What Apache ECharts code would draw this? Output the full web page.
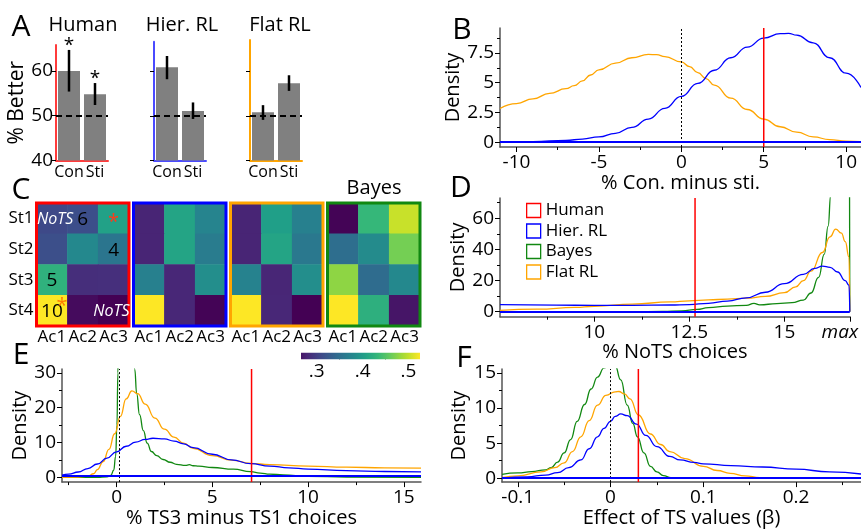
<!DOCTYPE html>
<html>
<head>
<meta charset="utf-8">
<title>Task-set model comparison</title>
<script src="https://cdn.jsdelivr.net/npm/echarts@6/dist/echarts.min.js"></script>
<style>body{margin:0;background:#fff}</style>
</head>
<body>
<div id="main" style="width:861px;height:529px;"></div>
<script>
var FONT = '"Open Sans", sans-serif';
var BLUE = '#0000ff', ORANGE = '#ffa500', GREEN = '#118811', RED = '#ff0000';

// ---- panel A : % better, Con / Sti
var barCats = ['Con', 'Sti'];
var humanMean = [60, 54.8];
var humanLo = [55.4, 52.4];
var humanHi = [64.7, 57.3];
var humanStar = [true, true];
var hierMean = [60.9, 51.1];
var hierLo = [58.2, 49.3];
var hierHi = [63.4, 53.0];
var flatMean = [50.8, 57.3];
var flatLo = [49.1, 55.6];
var flatHi = [52.4, 59.1];

// ---- panel C : choice matrices (rows St1..St4, cols Ac1..Ac3)
var stateLabels = ['St1', 'St2', 'St3', 'St4'];
var actionLabels = ['Ac1', 'Ac2', 'Ac3'];
var humanC = [[0.310, 0.315, 0.407], [0.316, 0.379, 0.357], [0.426, 0.286, 0.287], [0.525, 0.258, 0.250]];
var hierC = [[0.278, 0.410, 0.374], [0.278, 0.410, 0.365], [0.370, 0.280, 0.385], [0.525, 0.280, 0.252]];
var flatC = [[0.278, 0.404, 0.370], [0.278, 0.410, 0.360], [0.372, 0.279, 0.385], [0.525, 0.280, 0.250]];
var bayesC = [[0.252, 0.433, 0.503], [0.349, 0.382, 0.467], [0.478, 0.346, 0.379], [0.525, 0.423, 0.266]];
var colorbarTicks = [0.3, 0.4, 0.5];
var colorbarMinor = [0.35, 0.45];
// cell notes in the human matrix: [col, row, text]
var humanNotes = [[0, 0, 'NoTS'], [1, 0, '6'], [2, 0, '*'], [2, 1, '4'], [0, 2, '5'], [0, 3, '10'], [0, 3, '*'], [2, 3, 'NoTS']];

// ---- panel B : % Con. minus sti.
var flatB = [[-11, 2.84], [-10, 3.25], [-9, 3.65], [-8, 4.1], [-7, 4.5], [-6.5, 4.75], [-6, 5.15], [-5.5, 5.65], [-5, 6.08], [-4, 6.65], [-3, 7.1], [-2, 7.38], [-1.5, 7.36], [-1, 7.2], [0, 6.75], [0.5, 6.35], [1, 5.85], [1.5, 5.35], [2, 4.8], [3, 3.7], [4, 2.75], [5, 1.95], [6, 1.3], [7, 0.85], [8, 0.45], [9, 0.22], [10, 0.1], [10.9, 0.05]];
var hierB = [[-11, 0.02], [-9, 0.06], [-7, 0.15], [-6, 0.27], [-5, 0.45], [-4, 0.75], [-3, 1.25], [-2, 1.95], [-1, 2.85], [0, 3.85], [1, 4.95], [2, 6.05], [3, 7.1], [4, 8.0], [5, 8.75], [6, 9.12], [6.5, 9.15], [7, 9.0], [8, 8.35], [9, 7.1], [10, 5.8], [10.9, 4.6]];
var humanB = 5;

// ---- panel D : % NoTS choices
var hierD = [[7.52, 4.5], [9, 4.2], [10, 4.1], [11, 4.1], [12, 4.3], [12.5, 4.6], [13, 5.4], [13.5, 6.8], [14, 8.9], [14.5, 12.5], [15, 18], [15.5, 24], [15.8, 27.8], [16, 29.3], [16.2, 28.5], [16.4, 25.5], [16.6, 20], [16.7, 17], [16.72, 0]];
var flatD = [[7.52, 0.8], [8.5, 1.6], [9.5, 2.8], [10, 3.5], [11, 4.9], [12, 6.3], [12.5, 7], [13, 7.6], [13.5, 8.1], [14, 8.7], [14.5, 9.8], [15, 12.2], [15.3, 16], [15.5, 20], [15.7, 26], [16, 38], [16.2, 48], [16.35, 53], [16.5, 50.5], [16.6, 45], [16.7, 35], [16.72, 0]];
var bayesD = [[7.52, 0], [11, 0], [11.8, 0.2], [12.3, 0.6], [12.7, 1.5], [13, 2.6], [13.5, 3.6], [14, 4.1], [14.2, 5.3], [14.35, 4.4], [14.8, 5.2], [15.2, 5.8], [15.5, 7.5], [15.7, 12], [15.9, 22], [16.05, 37], [16.15, 55], [16.22, 75], [16.35, 110], [16.5, 140], [16.7, 150], [16.72, 0]];
var humanD = 12.65;
var noTsMax = 16.72;

// ---- panel E : % TS3 minus TS1 choices
var hierE = [[-2.85, 0.6], [-2.5, 0.9], [-2, 1.5], [-1.5, 2.5], [-1, 3.8], [-0.5, 5.5], [0, 7.3], [0.5, 8.9], [1, 10.1], [1.5, 10.9], [1.9, 11.2], [2.5, 11.0], [3, 10.4], [3.5, 9.6], [4, 8.5], [5, 6.6], [6, 5.0], [7, 3.9], [8, 3.2], [9, 2.7], [10, 2.35], [12, 1.9], [14, 1.65], [15.9, 1.55]];
var flatE = [[-2.85, 0], [-2, 0.05], [-1.5, 0.3], [-1.2, 1.0], [-1, 2.2], [-0.7, 4.5], [-0.4, 8], [-0.1, 12.5], [0.2, 17.5], [0.5, 22.5], [0.8, 24.8], [1.1, 24], [1.5, 21], [2, 17], [2.5, 13.8], [3, 11.5], [3.5, 9.8], [4, 8.3], [5, 6.2], [6, 4.9], [7, 4.0], [8, 3.6], [10, 3.2], [12, 2.9], [14, 2.7], [15.9, 2.6]];
var bayesE = [[-2.85, 0], [-1, 0], [-0.5, 0.1], [-0.3, 0.5], [-0.15, 2], [-0.05, 6], [0.02, 15], [0.07, 30], [0.12, 50], [0.5, 80], [0.8, 50], [0.95, 31], [1.05, 24], [1.2, 18], [1.4, 13.4], [1.6, 9.8], [1.82, 7.4], [2.1, 6.2], [2.43, 5.1], [2.8, 4.3], [3.13, 3.7], [3.6, 3.4], [3.8, 3.6], [4.0, 3.3], [4.3, 3.2], [5, 2.8], [6.1, 2.3], [7, 1.6], [7.5, 1.2], [8, 0.9], [8.7, 0.66], [10, 0.25], [12, 0.05], [15.9, 0]];
var humanE = 7.05;

// ---- panel F : effect of TS values
var bayesF = [[-0.117, 0.55], [-0.1, 0.75], [-0.085, 0.95], [-0.07, 1.2], [-0.064, 1.5], [-0.057, 2.3], [-0.05, 3.6], [-0.043, 5.5], [-0.036, 8.1], [-0.028, 10.5], [-0.021, 12.7], [-0.014, 14.4], [-0.007, 15.7], [0, 16.3], [0.005, 16.0], [0.011, 14], [0.018, 10.4], [0.024, 7.8], [0.029, 5.9], [0.036, 3.6], [0.043, 1.7], [0.05, 0.9], [0.057, 0.37], [0.065, 0.1], [0.075, 0], [0.27, 0]];
var flatF = [[-0.117, 0.1], [-0.1, 0.35], [-0.075, 0.9], [-0.06, 1.5], [-0.05, 2.2], [-0.041, 3.8], [-0.032, 5.9], [-0.023, 8.2], [-0.014, 10.4], [-0.005, 11.8], [0.005, 12.3], [0.009, 12.35], [0.015, 12.0], [0.021, 11.3], [0.03, 9.0], [0.043, 6.3], [0.054, 4.8], [0.064, 3.8], [0.08, 2.8], [0.1, 1.7], [0.115, 1.1], [0.129, 0.7], [0.145, 0.35], [0.161, 0.1], [0.2, 0], [0.27, 0]];
var hierF = [[-0.117, 0.0], [-0.09, 0.2], [-0.07, 0.45], [-0.057, 0.8], [-0.045, 1.5], [-0.032, 2.6], [-0.023, 4.2], [-0.014, 5.9], [-0.007, 7.1], [0, 8.1], [0.005, 8.8], [0.011, 9.15], [0.018, 8.9], [0.028, 7.7], [0.038, 6.1], [0.05, 4.5], [0.064, 3.1], [0.075, 2.6], [0.09, 2.25], [0.1, 2.05], [0.13, 1.8], [0.164, 1.6], [0.2, 1.3], [0.236, 0.9], [0.27, 0.6]];
var humanF = 0.03;

var viridis = ['#440154', '#482878', '#3e4a89', '#31688e', '#26828e', '#1f9e89', '#35b779', '#6dcd59', '#b4de2c', '#fde725'];
var cMin = 0.25, cMax = 0.525;

function viridisAt(t) {
  t = Math.max(0, Math.min(1, t));
  var p = t * (viridis.length - 1), i = Math.min(Math.floor(p), viridis.length - 2), f = p - i;
  var a = viridis[i], b = viridis[i + 1], out = '#';
  for (var k = 1; k < 7; k += 2) {
    var v = Math.round(parseInt(a.substr(k, 2), 16) * (1 - f) + parseInt(b.substr(k, 2), 16) * f);
    out += (v < 16 ? '0' : '') + v.toString(16);
  }
  return out;
}

var grids = [], xAxes = [], yAxes = [], series = [], heatSeries = [];
function addGrid(g) { grids.push(g); return grids.length - 1; }
function addX(a) { xAxes.push(a); return xAxes.length - 1; }
function addY(a) { yAxes.push(a); return yAxes.length - 1; }
var tickLbl = { fontSize: 19, fontFamily: FONT, color: '#000' };

// ---------- A
function barPanel(left, top, height, yMax, color, mean, lo, hi, stars, first) {
  var gi = addGrid({ left: left, top: top, width: 52, height: height });
  var xi = addX({
    type: 'category', gridIndex: gi, data: barCats,
    axisLine: { lineStyle: { color: color, width: 2 } },
    axisTick: { alignWithLabel: true, length: 4, lineStyle: { color: '#000' } },
    axisLabel: { interval: 0, fontSize: 16, fontFamily: FONT, color: '#000', margin: 4 }
  });
  var yi = addY({
    type: 'value', gridIndex: gi, min: 40, max: yMax,
    axisLine: { show: true, onZero: false, lineStyle: { color: color, width: 2 } },
    axisTick: { show: true, customValues: [40, 50, 60], length: 4, lineStyle: { color: '#000' } },
    axisLabel: { show: first, customValues: [40, 50, 60], fontSize: 19, fontFamily: FONT, color: '#000', margin: 3 },
    splitLine: { show: false },
    name: first ? '% Better' : '', nameLocation: 'middle', nameGap: 22,
    nameTextStyle: { fontSize: 21, fontFamily: FONT, color: '#000' }
  });
  series.push({
    type: 'bar', xAxisIndex: xi, yAxisIndex: yi, data: mean, barWidth: 22,
    itemStyle: { color: '#808080' },
    markLine: { silent: true, symbol: ['none', 'none'], label: { show: false },
      lineStyle: { type: [6, 4], color: '#000', width: 2 }, data: [{ yAxis: 50 }] }
  });
  series.push({
    type: 'custom', xAxisIndex: xi, yAxisIndex: yi, z: 5,
    data: mean.map(function (m, i) { return [i, lo[i], hi[i]]; }),
    encode: { x: 0, y: [1, 2] },
    renderItem: function (params, api) {
      var a = api.coord([api.value(0), api.value(1)]);
      var b = api.coord([api.value(0), api.value(2)]);
      var ch = [{ type: 'line', shape: { x1: a[0], y1: a[1], x2: b[0], y2: b[1] }, style: { stroke: '#000', lineWidth: 2.5 } }];
      if (stars && stars[params.dataIndex]) {
        ch.push({ type: 'text', style: { text: '*', x: b[0], y: b[1] - 4, align: 'center', verticalAlign: 'middle', font: '19px ' + FONT, fill: '#000' } });
      }
      return { type: 'group', children: ch };
    }
  });
}
barPanel(56, 45, 115.5, 65.8, '#ff3b3b', humanMean, humanLo, humanHi, humanStar, true);
barPanel(154, 41.7, 118.8, 66.6, '#4a4aff', hierMean, hierLo, hierHi, null, false);
barPanel(250, 40, 120.5, 67, ORANGE, flatMean, flatLo, flatHi, null, false);

// ---------- density panels
function valueAxes(adder, gi, pos, min, max, major, minor, fmt, name, gap) {
  var idx = adder({
    type: 'value', gridIndex: gi, position: pos, min: min, max: max,
    axisLine: { show: true, onZero: false, lineStyle: { color: '#555', width: 1.5 } },
    axisTick: { show: true, customValues: major, length: 5, lineStyle: { color: '#000' } },
    axisLabel: Object.assign({ customValues: major, margin: 6, formatter: fmt }, tickLbl),
    splitLine: { show: false },
    name: name, nameLocation: 'middle', nameGap: gap,
    nameTextStyle: { fontSize: 20, fontFamily: FONT, color: '#000' }
  });
  adder({
    type: 'value', gridIndex: gi, position: pos, min: min, max: max,
    axisLine: { show: false, onZero: false },
    axisTick: { show: true, customValues: minor, length: 3, lineStyle: { color: '#000' } },
    axisLabel: { show: false }, splitLine: { show: false }
  });
  return idx;
}

function densityPanel(c) {
  var gi = addGrid({ left: c.left, top: c.top, width: c.width, height: c.height });
  var xi = valueAxes(addX, gi, 'bottom', c.xMin, c.xMax, c.xMajor, c.xMinor, c.xFmt, c.xName, c.xGap);
  var yi = valueAxes(addY, gi, 'left', c.yMin, c.yMax, c.yMajor, c.yMinor, null, 'Density', c.yGap);
  c.curves.forEach(function (cv) {
    series.push({
      type: 'line', name: cv.name, xAxisIndex: xi, yAxisIndex: yi, data: cv.data,
      symbol: 'none', showSymbol: false, smooth: 0.5, smoothMonotone: 'x', clip: true,
      lineStyle: { color: cv.color, width: 1.3 }, itemStyle: { color: cv.color }, z: cv.z || 3,
      markLine: cv.mark
    });
  });
  series.push({
    type: 'line', name: 'Human', xAxisIndex: xi, yAxisIndex: yi,
    data: [[c.human, c.yMin], [c.human, c.yMax]], symbol: 'none', showSymbol: false,
    lineStyle: { color: RED, width: 1.5 }, itemStyle: { color: RED }, z: 4
  });
}
function zeroMark(x) {
  return { silent: true, symbol: ['none', 'none'], label: { show: false },
    lineStyle: { type: [2, 2], color: '#000', width: 1 }, data: [{ xAxis: x }] };
}
function baseMark(y) {
  return { silent: true, symbol: ['none', 'none'], label: { show: false },
    lineStyle: { type: 'solid', color: BLUE, width: 1.8 }, data: [{ yAxis: y }] };
}
function numFmt(v) { return String(v); }

densityPanel({
  left: 500, top: 28, width: 361, height: 119,
  xMin: -11, xMax: 10.9, xMajor: [-10, -5, 0, 5, 10], xMinor: [-7.5, -2.5, 2.5, 7.5], xFmt: numFmt,
  yMin: -0.4, yMax: 9.6, yMajor: [0, 2.5, 5, 7.5], yMinor: [1.25, 3.75, 6.25, 8.75],
  xName: '% Con. minus sti.', xGap: 23, yGap: 33, human: humanB,
  curves: [
    { name: 'Flat RL', color: ORANGE, data: flatB, mark: zeroMark(0) },
    { name: 'Hier. RL', color: BLUE, data: hierB, mark: baseMark(0) }
  ]
});
densityPanel({
  left: 500, top: 198, width: 356, height: 118.7,
  xMin: 7.52, xMax: noTsMax, xMajor: [10, 12.5, 15, noTsMax], xMinor: [8.75, 11.25, 13.75],
  xFmt: function (v) { return v > 16 ? '{i|max}' : String(v); },
  yMin: -3.2, yMax: 73, yMajor: [0, 20, 40, 60], yMinor: [10, 30, 50, 70],
  xName: '% NoTS choices', xGap: 24, yGap: 30, human: humanD,
  curves: [
    { name: 'Bayes', color: GREEN, data: bayesD },
    { name: 'Flat RL', color: ORANGE, data: flatD },
    { name: 'Hier. RL', color: BLUE, data: hierD, mark: baseMark(0) }
  ]
});
densityPanel({
  left: 62, top: 369, width: 359, height: 117.7,
  xMin: -2.85, xMax: 15.9, xMajor: [0, 5, 10, 15], xMinor: [-2.5, 2.5, 7.5, 12.5], xFmt: numFmt,
  yMin: -1.4, yMax: 31.1, yMajor: [0, 10, 20, 30], yMinor: [5, 15, 25],
  xName: '% TS3 minus TS1 choices', xGap: 23, yGap: 31, human: humanE,
  curves: [
    { name: 'Bayes', color: GREEN, data: bayesE },
    { name: 'Flat RL', color: ORANGE, data: flatE, mark: zeroMark(0.14) },
    { name: 'Hier. RL', color: BLUE, data: hierE, mark: baseMark(0.4) }
  ]
});
densityPanel({
  left: 502, top: 369, width: 359, height: 117.7,
  xMin: -0.117, xMax: 0.27, xMajor: [-0.1, 0, 0.1, 0.2], xMinor: [-0.05, 0.05, 0.15, 0.25], xFmt: numFmt,
  yMin: -0.55, yMax: 15.55, yMajor: [0, 5, 10, 15], yMinor: [2.5, 7.5, 12.5],
  xName: 'Effect of TS values (\u03b2)', xGap: 23, yGap: 33, human: humanF,
  curves: [
    { name: 'Bayes', color: GREEN, data: bayesF },
    { name: 'Flat RL', color: ORANGE, data: flatF, mark: zeroMark(0) },
    { name: 'Hier. RL', color: BLUE, data: hierF, mark: baseMark(0) }
  ]
});
// "max" label italic, pulled left of its tick
xAxes.forEach(function (a) {
  if (a.axisLabel && a.axisLabel.customValues && a.axisLabel.customValues.indexOf(noTsMax) >= 0) {
    a.axisLabel.rich = { i: { fontStyle: 'italic', fontSize: 19, fontFamily: FONT, color: '#000', padding: [0, 20, 0, 0] } };
  }
});

// ---------- C : heatmaps
var mats = [humanC, hierC, flatC, bayesC];
var matColors = [RED, BLUE, ORANGE, GREEN];
var matLeft = [36.5, 133.5, 230.5, 327.5];
mats.forEach(function (m, k) {
  var gi = addGrid({ left: matLeft[k], top: 203, width: 92.5, height: 123 });
  var xi = addX({
    type: 'category', gridIndex: gi, data: actionLabels, position: 'bottom',
    axisLine: { show: false }, axisTick: { show: false },
    axisLabel: { interval: 0, fontSize: 17, fontFamily: FONT, color: '#000', margin: 3 }
  });
  addX({
    type: 'category', gridIndex: gi, data: actionLabels, position: 'top',
    axisLine: { show: false }, axisTick: { alignWithLabel: true, length: 3, lineStyle: { color: '#000' } },
    axisLabel: { show: false }
  });
  var yi = addY({
    type: 'category', gridIndex: gi, data: stateLabels, inverse: true,
    axisLine: { show: false }, axisTick: { alignWithLabel: true, length: 3, lineStyle: { color: '#000' } },
    axisLabel: { show: k === 0, fontSize: 17, fontFamily: FONT, color: '#000', margin: 3 }
  });
  var data = [];
  m.forEach(function (row, r) { row.forEach(function (v, c) { data.push([c, r, v]); }); });
  heatSeries.push(series.length);
  series.push({ type: 'heatmap', xAxisIndex: xi, yAxisIndex: yi, data: data, itemStyle: { borderWidth: 0 }, emphasis: { disabled: true } });
  series.push({
    type: 'custom', xAxisIndex: xi, yAxisIndex: yi, data: [[0, 0]], z: 10, silent: true,
    renderItem: function (params) {
      var r = params.coordSys;
      return { type: 'rect', shape: { x: r.x, y: r.y, width: r.width, height: r.height }, style: { fill: 'none', stroke: matColors[k], lineWidth: 3 } };
    }
  });
  if (k === 0) {
    series.push({
      type: 'custom', xAxisIndex: xi, yAxisIndex: yi, z: 11, silent: true,
      data: humanNotes.map(function (n) { return [n[0], n[1]]; }),
      renderItem: function (params, api) {
        var n = humanNotes[params.dataIndex];
        var p = api.coord([api.value(0), api.value(1)]);
        var st = { text: n[2], x: p[0], y: p[1] + 1, align: 'center', verticalAlign: 'middle', fill: '#000', font: '19px ' + FONT };
        if (n[2] === 'NoTS') {
          st.fill = '#fff'; st.font = 'italic 16px ' + FONT;
          if (n[0] === 0) { st.align = 'left'; st.x = p[0] - 15; } else { st.align = 'right'; st.x = p[0] + 16; }
        } else if (n[2] === '*') {
          st.font = '20px ' + FONT;
          if (n[1] === 3) { st.fill = '#ff7a00'; st.x = p[0] + 10; st.y = p[1] - 4; } else { st.fill = '#ff3a1a'; st.y = p[1] + 4; }
        }
        return { type: 'text', style: st };
      }
    });
  }
});

// colorbar
(function () {
  var lo = 0.266, hi = 0.525;
  var gi = addGrid({ left: 301, top: 352.7, width: 119, height: 6.6 });
  var xi = addX({
    type: 'value', gridIndex: gi, min: lo, max: hi,
    axisLine: { show: false, onZero: false },
    axisTick: { show: true, customValues: colorbarMinor, length: 3, inside: true, lineStyle: { color: '#000' } },
    axisLabel: Object.assign({ customValues: colorbarTicks, margin: 3, formatter: function (v) { return '.' + Math.round(v * 10); } }, tickLbl),
    splitLine: { show: false }
  });
  var yi = addY({ type: 'value', gridIndex: gi, min: 0, max: 1, show: false });
  var stops = [];
  for (var i = 0; i <= 20; i++) {
    var v = lo + (hi - lo) * i / 20;
    stops.push({ offset: i / 20, color: viridisAt((v - cMin) / (cMax - cMin)) });
  }
  series.push({
    type: 'custom', xAxisIndex: xi, yAxisIndex: yi, data: [[lo, hi]], silent: true,
    renderItem: function (params, api) {
      var a = api.coord([api.value(0), 1]), b = api.coord([api.value(1), 0]);
      return { type: 'rect', shape: { x: a[0], y: a[1], width: b[0] - a[0], height: b[1] - a[1] },
        style: { fill: new echarts.graphic.LinearGradient(0, 0, 1, 0, stops) } };
    }
  });
})();

function label(text, x, y, size) {
  return { type: 'text', x: x, y: y, silent: true,
    style: { text: text, align: 'center', verticalAlign: 'middle', font: size + 'px ' + FONT, fill: '#000' } };
}

var chart = echarts.init(document.getElementById('main'));
chart.setOption({
  animation: false,
  textStyle: { fontFamily: FONT },
  grid: grids, xAxis: xAxes, yAxis: yAxes, series: series,
  visualMap: { type: 'continuous', show: false, min: cMin, max: cMax, seriesIndex: heatSeries, inRange: { color: viridis } },
  legend: {
    orient: 'vertical', left: 521, top: 197, itemWidth: 14, itemHeight: 14, itemGap: 3.5, icon: 'rect',
    selectedMode: false,
    textStyle: { fontSize: 17, lineHeight: 15, fontFamily: FONT, color: '#000', padding: [0, 0, 0, 0] },
    data: [
      { name: 'Human', itemStyle: { color: 'rgba(0,0,0,0)', borderColor: RED, borderWidth: 1.3 } },
      { name: 'Hier. RL', itemStyle: { color: 'rgba(0,0,0,0)', borderColor: BLUE, borderWidth: 1.3 } },
      { name: 'Bayes', itemStyle: { color: 'rgba(0,0,0,0)', borderColor: GREEN, borderWidth: 1.3 } },
      { name: 'Flat RL', itemStyle: { color: 'rgba(0,0,0,0)', borderColor: ORANGE, borderWidth: 1.3 } }
    ]
  },
  graphic: [
    label('A', 21, 27, 30), label('B', 462, 30, 30), label('C', 21, 190, 30),
    label('D', 461, 188, 30), label('E', 21, 355, 30), label('F', 464, 358, 30),
    label('Human', 83, 25, 20), label('Hier. RL', 182, 25, 20), label('Flat RL', 280, 25, 20),
    label('Bayes', 374, 188, 20)
  ]
});
</script>
</body>
</html>
